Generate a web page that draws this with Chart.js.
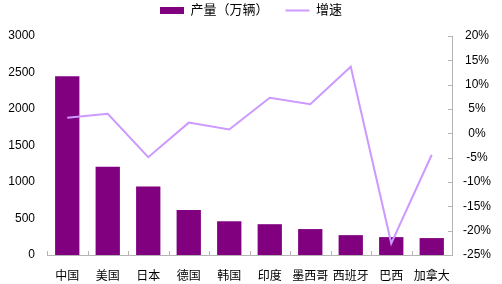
<!DOCTYPE html>
<html>
<head>
<meta charset="utf-8">
<script src="https://cdn.jsdelivr.net/npm/chart.js@4/dist/chart.umd.min.js"></script>
<style>
  html, body { margin: 0; padding: 0; background: #fff; }
  #wrap { width: 502px; height: 284px; }
</style>
</head>
<body>
<div id="wrap"><canvas id="myChart"></canvas></div>
<script>
// countries
let countries = ['中国', '美国', '日本', '德国', '韩国', '印度', '墨西哥', '西班牙', '巴西', '加拿大'];
// output, 10k vehicles
let output = [2450, 1210, 940, 615, 462, 422, 355, 272, 245, 232];
// growth, %
let growth = [3.2, 4.0, -4.9, 2.2, 0.8, 7.3, 6.0, 13.7, -22.6, -4.4];
let leftTicks = [0, 500, 1000, 1500, 2000, 2500, 3000];
let rightTicks = [-25, -20, -15, -10, -5, 0, 5, 10, 15, 20];

const FONT = "'Liberation Sans', 'Noto Sans CJK SC', sans-serif";
const AXIS_GRAY = '#b4b4b4';

// small inward tick marks like the original
const innerTicks = {
  id: 'innerTicks',
  beforeInit(chart) {
    // extra room under the legend
    const fit = chart.legend.fit;
    chart.legend.fit = function () {
      fit.call(this);
      this.height += 9;
    };
  },
  afterDraw(chart) {
    const c = chart.ctx;
    const area = chart.chartArea;
    const y2 = chart.scales.y2;
    c.save();
    c.strokeStyle = AXIS_GRAY;
    c.lineWidth = 1;
    c.beginPath();
    for (let i = 0; i <= countries.length; i++) {
      let px = Math.round(area.left + (area.right - area.left) * i / countries.length) + 0.5;
      c.moveTo(px, area.bottom);
      c.lineTo(px, area.bottom - 4);
    }
    rightTicks.forEach(v => {
      let py = Math.round(y2.getPixelForValue(v)) + 0.5;
      c.moveTo(area.right, py);
      c.lineTo(area.right - 4, py);
    });
    c.stroke();
    c.restore();
  }
};

const ctx = document.getElementById('myChart').getContext('2d');
const myChart = new Chart(ctx, {
  type: 'bar',
  data: {
    labels: countries,
    datasets: [{
      label: '产量（万辆）',
      data: output,
      backgroundColor: '#800080',
      borderWidth: 0,
      pointStyle: 'rect',
      yAxisID: 'y',
      barPercentage: 0.6,
      categoryPercentage: 1,
      order: 2
    },
    {
      type: 'line',
      label: '增速',
      data: growth,
      borderColor: '#cc99ff',
      backgroundColor: '#cc99ff',
      borderWidth: 2,
      pointRadius: 0,
      pointStyle: 'line',
      tension: 0,
      yAxisID: 'y2',
      order: 1
    }]
  },
  options: {
    responsive: true,
    maintainAspectRatio: false,
    animation: false,
    plugins: {
      tooltip: { enabled: false },
      legend: {
        position: 'top',
        labels: {
          usePointStyle: true,
          pointStyleWidth: 24,
          boxHeight: 7,
          color: '#000',
          padding: 4,
          sort: (a, b) => a.datasetIndex - b.datasetIndex,
          generateLabels: chart => {
            let items = Chart.defaults.plugins.legend.labels.generateLabels(chart);
            items.forEach(it => { if (it.datasetIndex === 0) it.text = it.text + '\u2003'; });
            return items;
          },
          font: { family: FONT, size: 13 }
        }
      }
    },
    scales: {
      x: {
        grid: { display: false, drawTicks: false },
        border: { display: true, color: AXIS_GRAY, width: 1 },
        ticks: { color: '#000', padding: 14, maxRotation: 0, autoSkip: false, font: { family: FONT, size: 12 } },
        afterFit: s => { s.height = 29; }
      },
      y: {
        position: 'left',
        min: 0,
        max: 3000,
        afterBuildTicks: s => { s.ticks = leftTicks.map(v => ({ value: v })); },
        grid: { display: false, drawTicks: false },
        border: { display: false },
        ticks: { color: '#000', padding: 12, font: { family: FONT, size: 12 }, callback: v => String(v) },
        afterFit: s => { s.width = 47; }
      },
      y2: {
        position: 'right',
        min: -25,
        max: 20,
        afterBuildTicks: s => { s.ticks = rightTicks.map(v => ({ value: v })); },
        grid: { display: false, drawTicks: false },
        border: { display: true, color: AXIS_GRAY, width: 1 },
        ticks: {
          color: '#000',
          padding: 11,
          crossAlign: 'center',
          font: { family: FONT, size: 12 },
          callback: v => v + '%'
        },
        afterFit: s => { s.width = 50; }
      }
    }
  },
  plugins: [innerTicks]
});
</script>
</body>
</html>
